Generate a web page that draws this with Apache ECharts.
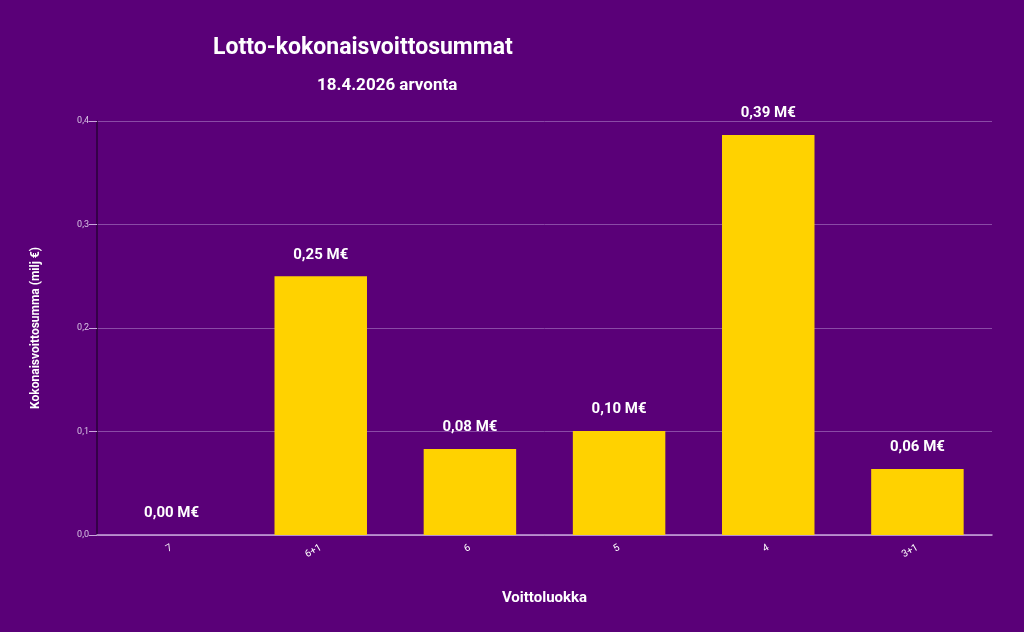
<!DOCTYPE html>
<html lang="fi">
<head>
  <meta charset="UTF-8">
  <title>Lotto-kokonaisvoittosummat</title>
  <script src="https://cdn.jsdelivr.net/npm/echarts@6/dist/echarts.min.js"></script>
</head>
<body style="margin:0">
<div id="chart" style="width:1024px;height:632px"></div>
<script>
  const categories = ['7', '6+1', '6', '5', '4', '3+1'];
  const values = [0, 0.25, 0.083, 0.1005, 0.3865, 0.0638];
  const yTicks = [0, 0.1, 0.2, 0.3, 0.4];

  const chart = echarts.init(document.getElementById('chart'));
  chart.setOption({
    backgroundColor: '#5a0078',
    textStyle: { fontFamily: 'Roboto' },
    title: [
      { text: 'Lotto-kokonaisvoittosummat', left: 208, top: 32,
        textStyle: { color: '#fff', fontSize: 23, fontWeight: 'bold' } },
      { text: '18.4.2026 arvonta', left: 312, top: 72,
        textStyle: { color: '#fff', fontSize: 17, fontWeight: 'bold' } }
    ],
    grid: { left: 97, right: 32, top: 121, bottom: 97 },
    xAxis: {
      type: 'category',
      data: categories,
      name: 'Voittoluokka',
      nameLocation: 'middle',
      nameGap: 56,
      nameTextStyle: { color: '#fff', fontSize: 15, fontWeight: 'bold' },
      axisLine: { lineStyle: { color: '#c9a6dc', width: 1.5 } },
      axisTick: { show: false },
      axisLabel: { color: '#fff', fontSize: 10, rotate: 30, margin: 12 }
    },
    yAxis: {
      type: 'value',
      min: 0, max: 0.4, interval: 0.1,
      name: 'Kokonaisvoittosumma (milj €)',
      nameLocation: 'middle',
      nameGap: 55,
      nameTextStyle: { color: '#fff', fontSize: 12, fontWeight: 'bold' },
      axisLine: { show: true, lineStyle: { color: '#2a0038', width: 1.5 } },
      axisTick: { show: true, length: 8, lineStyle: { color: '#c9a6dc' } },
      axisLabel: { color: '#d8c4e4', fontSize: 9,
        formatter: v => yTicks.includes(+v.toFixed(1)) ? v.toFixed(1).replace('.', ',') : '' },
      splitLine: { lineStyle: { color: '#8a4aa6', width: 1 } }
    },
    series: [{
      type: 'bar',
      data: values,
      barWidth: '62%',
      itemStyle: { color: '#ffd200' },
      label: {
        show: true, position: 'top', distance: 14,
        color: '#fff', fontSize: 15, fontWeight: 'bold',
        formatter: p => p.value.toFixed(2).replace('.', ',') + ' M€'
      }
    }]
  });
</script>
</body>
</html>
